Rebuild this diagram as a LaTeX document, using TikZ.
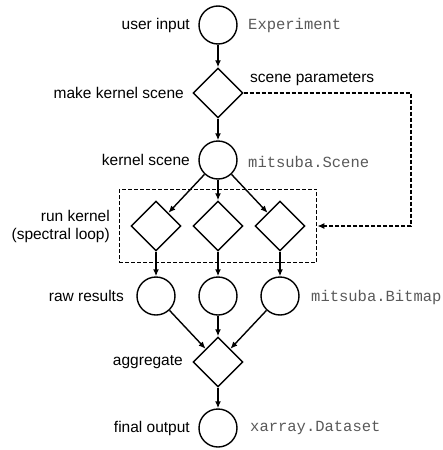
\documentclass[tikz,border=0pt]{standalone}
\usepackage{fontspec}
\setmainfont{Liberation Sans}
\setmonofont{Liberation Mono}
\usetikzlibrary{shapes.geometric, arrows.meta, fit}

\newcommand{\figsize}{\fontsize{15.5}{18}\selectfont}

\tikzset{
    data/.style={draw, circle, line width=1.4pt, minimum size=38pt, inner sep=0pt},
    proc/.style={draw, diamond, line width=1.4pt, minimum width=50pt, minimum height=50pt, inner sep=0pt},
    lbl/.style={anchor=east, inner sep=0pt},
    typ/.style={anchor=west, inner sep=0pt, font=\figsize\ttfamily, text=black!65},
    flow/.style={-{Latex[length=7pt, width=6pt]}, line width=1.4pt},
    loopline/.style={line width=1.3pt, dash pattern=on 4pt off 2pt},
}

\begin{document}
\begin{tikzpicture}[x=1pt, y=-1pt, font=\figsize]
    \useasboundingbox (0,0) rectangle (443,450);

    % Main column
    \node[data] (input) at (218,25) {};
    \node[proc] (make) at (218,93) {};
    \node[data] (scene) at (218,160) {};
    \foreach \i/\x in {1/156, 2/218, 3/280} {
        \node[proc] (run\i) at (\x,226) {};
        \node[data] (raw\i) at (\x,296) {};
    }
    \node[proc] (agg) at (218,362) {};
    \node[data] (out) at (218,428) {};

    % Spectral loop box
    \node[draw, loopline, inner sep=11pt, fit=(run1)(run3)] (loop) {};

    % Labels
    \node[lbl] at (190,25) {user input};
    \node[lbl] at (184,93) {make kernel scene};
    \node[lbl] at (190,160) {kernel scene};
    \node[lbl, align=right] at (110,226) {run kernel\\(spectral loop)};
    \node[lbl] at (124,296) {raw results};
    \node[lbl] at (183,362) {aggregate};
    \node[lbl] at (190,428) {final output};

    \node[typ] at (248,25) {Experiment};
    \node[typ] at (248,162) {mitsuba.Scene};
    \node[typ] at (311,297) {mitsuba.Bitmap};
    \node[typ] at (250,428) {xarray.Dataset};

    % Arrows
    \draw[flow] (input) -- (make);
    \draw[flow] (make) -- (scene);
    \foreach \i in {1, 2, 3} {
        \draw[flow] (scene) -- (run\i);
        \draw[flow] (run\i) -- (raw\i);
        \draw[flow] (raw\i) -- (agg);
    }
    \draw[flow] (agg) -- (out);

    % Scene parameters
    \coordinate (corner) at (411,93);
    \node[anchor=south west, inner sep=0pt] at (250,86) {scene parameters};
    \draw[flow, loopline] (make.east) -- (corner) |- (loop.east);
\end{tikzpicture}
\end{document}
